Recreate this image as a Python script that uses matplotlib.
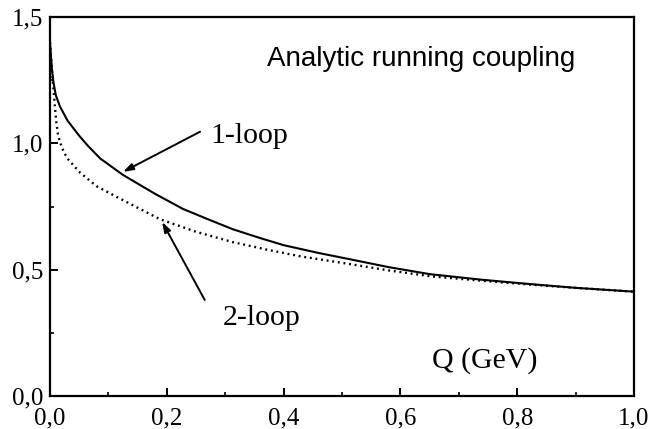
import numpy as np
import matplotlib
matplotlib.use("Agg")
import matplotlib.pyplot as plt

# valeurs
q_1loop = [0, 0.003, 0.006, 0.01, 0.017, 0.03, 0.05, 0.065, 0.086, 0.125,
           0.18, 0.228, 0.27, 0.313, 0.36, 0.4, 0.46, 0.514, 0.58, 0.651,
           0.74, 0.822, 0.9, 1.0]
a_1loop = [1.40, 1.30, 1.24, 1.19, 1.146, 1.09, 1.03, 0.99, 0.94, 0.875,
           0.80, 0.74, 0.70, 0.66, 0.625, 0.597, 0.566, 0.541, 0.51, 0.482,
           0.46, 0.443, 0.428, 0.413]

q_2loop = [0, 0.003, 0.005, 0.009, 0.011, 0.014, 0.02, 0.025, 0.031, 0.051,
           0.08, 0.115, 0.188, 0.25, 0.313, 0.37, 0.428, 0.514, 0.58, 0.651,
           0.74, 0.822, 0.9, 1.0]
a_2loop = [1.40, 1.30, 1.24, 1.13, 1.08, 1.03, 0.985, 0.96, 0.937, 0.885,
           0.83, 0.787, 0.70, 0.65, 0.609, 0.58, 0.553, 0.522, 0.497, 0.474,
           0.456, 0.441, 0.428, 0.413]

xticks = [0.0, 0.2, 0.4, 0.6, 0.8, 1.0]
xticklabels = ["0,0", "0,2", "0,4", "0,6", "0,8", "1,0"]
yticks = [0.0, 0.5, 1.0, 1.5]
yticklabels = ["0,0", "0,5", "1,0", "1,5"]

serif = "Liberation Serif"
sans = "Liberation Sans"

fig = plt.figure(figsize=(6.51, 4.29), dpi=100)
ax = fig.add_axes([50 / 651, 33 / 429, 584 / 651, 379 / 429])

ax.plot(q_1loop, a_1loop, color="black", lw=1.5)
ax.plot(q_2loop, a_2loop, color="black", lw=1.7, linestyle=(0, (0.8, 1.6)))

ax.set_xlim(0, 1)
ax.set_ylim(0, 1.5)
ax.set_xticks(xticks)
ax.set_xticklabels(xticklabels, family=serif, fontsize=18)
ax.set_yticks(yticks)
ax.set_yticklabels(yticklabels, family=serif, fontsize=18)
ax.set_xticks(np.arange(0.1, 1.0, 0.2), minor=True)
ax.set_yticks([0.25, 0.75, 1.25], minor=True)
ax.tick_params(which="major", direction="in", length=6, width=1.4)
ax.tick_params(which="minor", direction="in", length=3, width=1.2)
ax.tick_params(axis="x", pad=8)
ax.tick_params(axis="y", pad=5)
for s in ax.spines.values():
    s.set_linewidth(1.6)

ax.text(0.372, 1.335, "Analytic running coupling", family=sans, fontsize=20,
        ha="left", va="center")
ax.text(0.274, 1.002, "1-loop", family=serif, fontsize=21.5, va="baseline")
ax.text(0.296, 0.281, "2-loop", family=serif, fontsize=21.5, va="baseline")
ax.text(0.654, 0.111, "Q (GeV)", family=serif, fontsize=21.5, va="baseline")

arrow = dict(arrowstyle="-|>,head_length=0.6,head_width=0.2", color="black",
             lw=1.4, shrinkA=0, shrinkB=0)
ax.annotate("", xy=(0.125, 0.887), xytext=(0.257, 1.046), arrowprops=arrow)
ax.annotate("", xy=(0.192, 0.689), xytext=(0.265, 0.380), arrowprops=arrow)

plt.savefig("out.png", dpi=100)
